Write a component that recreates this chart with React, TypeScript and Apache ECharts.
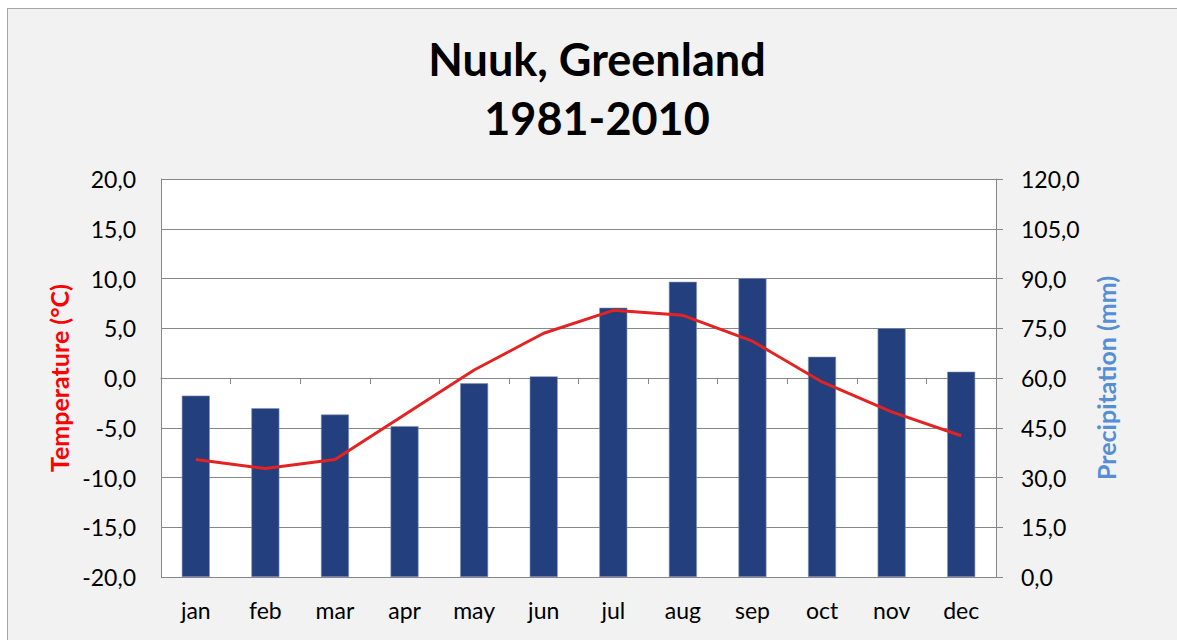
import React, { useEffect, useRef } from "react";
import * as echarts from "echarts";

const months = ["jan", "feb", "mar", "apr", "may", "jun", "jul", "aug", "sep", "oct", "nov", "dec"];
const temperature = [-8.2, -9.1, -8.2, -3.7, 0.8, 4.5, 6.8, 6.3, 3.7, -0.4, -3.4, -5.8];
const precipitation = [54.7, 50.9, 49.0, 45.5, 58.4, 60.5, 81.2, 89.0, 90.1, 66.4, 75.0, 61.9];

const titleLines = ["Nuuk, Greenland", "1981-2010"];
const tempName = "Temperature (°C)";
const precName = "Precipitation (mm)";

const FONT = "Lato, 'Open Sans', sans-serif";
const fmt = (v: number) => v.toFixed(1).replace(".", ",");

export default function App() {
  const ref = useRef<HTMLDivElement>(null);
  useEffect(() => {
    if (!ref.current) return;
    const chart = echarts.init(ref.current, null, { renderer: "svg" });
    const gridColor = "#878787";
    chart.setOption({
      animation: false,
      backgroundColor: "#f2f2f2",
      textStyle: { fontFamily: FONT },
      title: {
        text: titleLines.join("\n"),
        left: 584,
        top: 15,
        textAlign: "center",
        textStyle: {
          fontFamily: FONT,
          fontSize: 45,
          fontWeight: "bold",
          color: "#000",
          lineHeight: 59,
        },
      },
      grid: { left: 153, top: 170, right: 181, bottom: 63, show: true, backgroundColor: "#ffffff", borderWidth: 0 },
      xAxis: {
        type: "category",
        data: months,
        boundaryGap: true,
        axisLine: { show: true, lineStyle: { color: gridColor, width: 1 } },
        axisTick: { show: true, length: 6, lineStyle: { color: gridColor } },
        axisLabel: { color: "#000", fontSize: 23, fontFamily: FONT, margin: 21 },
      },
      yAxis: [
        {
          type: "value",
          min: -20,
          max: 20,
          interval: 5,
          position: "left",
          name: tempName,
          nameLocation: "middle",
          nameGap: 89,
          nameTextStyle: { color: "#ff0000", fontSize: 25, fontWeight: "bold", fontFamily: FONT },
          axisLine: { show: true, lineStyle: { color: gridColor } },
          axisTick: { show: false },
          splitLine: { show: true, lineStyle: { color: gridColor, width: 1 } },
          axisLabel: { color: "#000", fontSize: 23, fontFamily: FONT, margin: 25, formatter: fmt },
        },
        {
          type: "value",
          min: 0,
          max: 120,
          interval: 15,
          position: "right",
          name: precName,
          nameLocation: "middle",
          nameGap: 97,
          nameTextStyle: { color: "#558ed5", fontSize: 25, fontWeight: "bold", fontFamily: FONT },
          axisLine: { show: true, lineStyle: { color: gridColor } },
          axisTick: { show: true, length: 7, lineStyle: { color: gridColor } },
          splitLine: { show: false },
          axisLabel: { color: "#000", fontSize: 23, fontFamily: FONT, margin: 25, formatter: fmt },
        },
      ],
      series: [
        {
          type: "bar",
          name: "Precipitation",
          yAxisIndex: 1,
          data: precipitation,
          barWidth: 28,
          itemStyle: { color: "#243f7d", borderColor: "#8393b8", borderWidth: 0.6 },
        },
        {
          type: "line",
          name: "Temperature",
          yAxisIndex: 0,
          data: temperature,
          showSymbol: false,
          symbol: "none",
          lineStyle: { color: "#e32322", width: 3 },
          z: 5,
        },
      ],
    });
    return () => chart.dispose();
  }, []);

  return (
    <div
      style={{
        position: "fixed",
        left: 7,
        top: 8,
        borderTop: "1px solid #a6a6a6",
        borderLeft: "1px solid #a6a6a6",
        background: "#f2f2f2",
      }}
    >
      <div ref={ref} style={{ width: 1169, height: 631 }} />
    </div>
  );
}
